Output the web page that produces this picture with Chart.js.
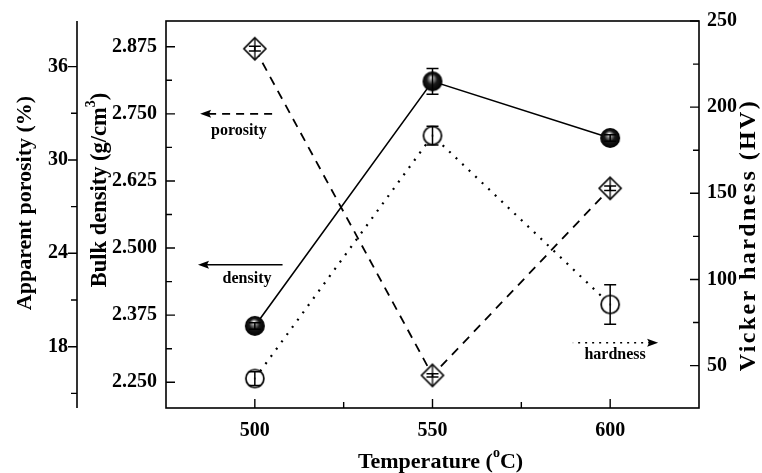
<!DOCTYPE html>
<html>
<head>
<meta charset="utf-8">
<script src="https://cdn.jsdelivr.net/npm/chart.js@4.4.0/dist/chart.umd.min.js"></script>
<style>
  html, body { margin: 0; padding: 0; background: #fff; }
</style>
</head>
<body>
<canvas id="grafico" width="762" height="473"></canvas>
<script>
// values
var temperatures = [500, 550, 600];
var density = [2.355, 2.8105, 2.705];
var densityErr = [0.006, 0.024, 0.006];
var porosity = [37.15, 16.16, 28.18];
var porosityErr = [0.15, 0.1, 0.15];
var hardness = [42.5, 183.5, 85.5];
var hardnessErr = [4, 5.4, 11.5];

var xTicks = [500, 550, 600];
var xMinor = [525, 575];
var densityTicks = [2.25, 2.375, 2.5, 2.625, 2.75, 2.875];
var densityMinor = [2.3125, 2.4375, 2.5625, 2.6875, 2.8125];
var porosityTicks = [18, 24, 30, 36];
var porosityMinor = [15, 21, 27, 33];
var hardnessTicks = [50, 100, 150, 200, 250];
var hardnessMinor = [75, 125, 175, 225];

var SERIF = '"Liberation Serif", "Times New Roman", serif';

function pts(ys) {
  return temperatures.map(function(t, i) { return {x: t, y: ys[i]}; });
}

// marker images
function sphere(r) {
  var c = document.createElement('canvas');
  c.width = c.height = 2 * r + 2;
  var ctx = c.getContext('2d');
  var g = ctx.createRadialGradient(r, r * 0.6 + 1, 0.5, r + 1, r + 1, r);
  g.addColorStop(0, '#f4f4f4');
  g.addColorStop(0.22, '#8a8a8a');
  g.addColorStop(0.5, '#1a1a1a');
  g.addColorStop(1, '#000');
  ctx.fillStyle = g;
  ctx.beginPath();
  ctx.arc(r + 1, r + 1, r, 0, Math.PI * 2);
  ctx.fill();
  return c;
}
function ring(r) {
  var c = document.createElement('canvas');
  c.width = c.height = 2 * r + 4;
  var ctx = c.getContext('2d');
  var m = r + 2;
  ctx.fillStyle = '#fff';
  ctx.strokeStyle = '#000';
  ctx.lineWidth = 1.7;
  ctx.beginPath();
  ctx.arc(m, m, r, 0, Math.PI * 2);
  ctx.fill();
  ctx.stroke();
  ctx.fillStyle = '#000';
  ctx.fillRect(m - 0.7, m - 0.7, 1.4, 1.4);
  return c;
}
function diamond(r) {
  var c = document.createElement('canvas');
  c.width = c.height = 2 * r + 4;
  var ctx = c.getContext('2d');
  var m = r + 2;
  ctx.fillStyle = '#fff';
  ctx.strokeStyle = '#000';
  ctx.lineWidth = 1.6;
  ctx.beginPath();
  ctx.moveTo(m, m - r);
  ctx.lineTo(m + r, m);
  ctx.lineTo(m, m + r);
  ctx.lineTo(m - r, m);
  ctx.closePath();
  ctx.fill();
  ctx.stroke();
  ctx.beginPath();
  ctx.moveTo(m, m - r);
  ctx.lineTo(m, m + r);
  ctx.lineWidth = 1.3;
  ctx.stroke();
  return c;
}

var errors = [densityErr, porosityErr, hardnessErr];

// annotations: [text, x, y, scaleId] and arrows [x1, x2, y, scaleId, dash, tipLeft]
var notes = [
  ['porosity', 495.5, 2.718, 'y'],
  ['density', 497.8, 2.442, 'y'],
  ['hardness', 601.4, 56.4, 'y2']
];
var arrows = [
  [484.6, 506.2, 2.750, 'y', [8, 6], true],
  [484.0, 507.8, 2.469, 'y', [], true],
  [589.5, 613.5, 63.3, 'y2', [2, 5], false]
];

function drawRich(ctx, parts, cx, cy, rot, size, spacing) {
  ctx.save();
  ctx.translate(cx, cy);
  ctx.rotate(rot);
  ctx.letterSpacing = (spacing || 0) + 'px';
  var big = 'bold ' + size + 'px ' + SERIF;
  var small = 'bold ' + Math.round(size * 0.62) + 'px ' + SERIF;
  var w = 0;
  parts.forEach(function(p) {
    ctx.font = p[1] ? small : big;
    w += ctx.measureText(p[0]).width;
  });
  var x = -w / 2;
  ctx.textBaseline = 'middle';
  ctx.textAlign = 'left';
  ctx.fillStyle = '#000';
  parts.forEach(function(p) {
    ctx.font = p[1] ? small : big;
    ctx.fillText(p[0], x, p[1] ? -size * 0.38 : 0);
    x += ctx.measureText(p[0]).width;
  });
  ctx.restore();
}

var frame = {
  id: 'frame',
  afterDatasetsDraw: function(chart) {
    var ctx = chart.ctx;
    ctx.save();
    ctx.strokeStyle = '#000';
    ctx.lineWidth = 1.5;
    var xs = chart.scales.x;
    chart.data.datasets.forEach(function(ds, i) {
      var ys = chart.scales[ds.yAxisID];
      ds.data.forEach(function(p, j) {
        var e = errors[i][j];
        var px = xs.getPixelForValue(p.x);
        var y1 = ys.getPixelForValue(p.y - e);
        var y2 = ys.getPixelForValue(p.y + e);
        ctx.beginPath();
        ctx.moveTo(px, y1); ctx.lineTo(px, y2);
        ctx.moveTo(px - 6, y1); ctx.lineTo(px + 6, y1);
        ctx.moveTo(px - 6, y2); ctx.lineTo(px + 6, y2);
        ctx.stroke();
      });
    });
    ctx.restore();
  },
  afterDraw: function(chart) {
    var ctx = chart.ctx;
    var a = chart.chartArea;
    var s = chart.scales;
    ctx.save();
    ctx.strokeStyle = '#000';
    ctx.lineWidth = 1.6;
    ctx.strokeRect(a.left, a.top, a.right - a.left, a.bottom - a.top);
    var pr = s.yP.right;
    ctx.beginPath();
    ctx.moveTo(pr, a.top); ctx.lineTo(pr, a.bottom);
    ctx.stroke();

    ctx.lineWidth = 1.4;
    ctx.beginPath();
    function tx(vals, len) {
      vals.forEach(function(v) {
        var p = s.x.getPixelForValue(v);
        ctx.moveTo(p, a.bottom); ctx.lineTo(p, a.bottom - len);
      });
    }
    function ty(sc, vals, x0, len) {
      vals.forEach(function(v) {
        var p = sc.getPixelForValue(v);
        ctx.moveTo(x0, p); ctx.lineTo(x0 + len, p);
      });
    }
    tx(xTicks, 9); tx(xMinor, 6);
    ty(s.y, densityTicks, a.left, 9); ty(s.y, densityMinor, a.left, 6);
    ty(s.y2, hardnessTicks, a.right, -9); ty(s.y2, hardnessMinor, a.right, -6);
    ty(s.yP, porosityTicks, pr, -9); ty(s.yP, porosityMinor, pr, -6);
    ctx.stroke();

    // arrows
    arrows.forEach(function(ar) {
      var x1 = s.x.getPixelForValue(ar[0]);
      var x2 = s.x.getPixelForValue(ar[1]);
      var y = s[ar[3]].getPixelForValue(ar[2]);
      var tip = ar[5] ? x1 : x2;
      var dir = ar[5] ? 1 : -1;
      ctx.setLineDash(ar[4]);
      ctx.lineWidth = 1.6;
      ctx.beginPath();
      ctx.moveTo(tip + dir * 8, y);
      ctx.lineTo(ar[5] ? x2 : x1, y);
      ctx.stroke();
      ctx.setLineDash([]);
      ctx.fillStyle = '#000';
      ctx.beginPath();
      ctx.moveTo(tip, y);
      ctx.lineTo(tip + dir * 11, y - 4);
      ctx.lineTo(tip + dir * 9, y);
      ctx.lineTo(tip + dir * 11, y + 4);
      ctx.closePath();
      ctx.fill();
    });

    ctx.fillStyle = '#000';
    ctx.font = 'bold 16px ' + SERIF;
    ctx.textAlign = 'center';
    ctx.textBaseline = 'middle';
    notes.forEach(function(n) {
      ctx.fillText(n[0], s.x.getPixelForValue(n[1]), s[n[3]].getPixelForValue(n[2]));
    });
    ctx.restore();

    // axis titles
    drawRich(ctx, [['Apparent porosity (%)']], 25, 203, -Math.PI / 2, 22);
    drawRich(ctx, [['Bulk density (g/cm'], ['3', true], [')']], 100, 190, -Math.PI / 2, 22.5);
    drawRich(ctx, [['Vicker hardness (HV)']], 749, 235, -Math.PI / 2, 24, 2.4);
    drawRich(ctx, [['Temperature ('], ['o', true], ['C)']], (a.left + a.right) / 2 + 8, 462, 0, 22);
  }
};

function setTicks(list) {
  return function(scale) {
    scale.ticks = list.map(function(v) { return {value: v}; });
  };
}
var tickFont = {family: SERIF, size: 20, weight: 'bold'};
var noGrid = {display: false, drawTicks: false};

var ctx = document.getElementById('grafico').getContext('2d');
var chart = new Chart(ctx, {
  type: 'line',
  data: {
    datasets: [{
      label: 'density',
      data: pts(density),
      yAxisID: 'y',
      borderColor: '#000',
      borderWidth: 1.6,
      pointStyle: sphere(10),
      tension: 0
    }, {
      label: 'porosity',
      data: pts(porosity),
      yAxisID: 'yP',
      borderColor: '#000',
      borderWidth: 1.8,
      borderDash: [9, 7],
      pointStyle: diamond(11),
      tension: 0
    }, {
      label: 'hardness',
      data: pts(hardness),
      yAxisID: 'y2',
      borderColor: '#000',
      borderWidth: 2.2,
      borderDash: [2, 7],
      pointStyle: ring(9),
      tension: 0
    }]
  },
  options: {
    responsive: false,
    animation: false,
    layout: {padding: {top: 17, left: 0, right: 0, bottom: 0}},
    plugins: {legend: {display: false}, tooltip: {enabled: false}},
    scales: {
      x: {
        type: 'linear', position: 'bottom', min: 475, max: 625,
        afterBuildTicks: setTicks(xTicks),
        afterFit: function(s) { s.height = 65; },
        grid: noGrid, border: {display: false},
        ticks: {font: tickFont, color: '#000', padding: 11, callback: function(v) { return v; }}
      },
      y: {
        position: 'left', min: 2.2021, max: 2.9229, weight: 0,
        afterBuildTicks: setTicks(densityTicks),
        afterFit: function(s) { s.width = 89; },
        grid: noGrid, border: {display: false},
        ticks: {font: tickFont, color: '#000', padding: 9, callback: function(v) { return v.toFixed(3); }}
      },
      yP: {
        position: 'left', min: 14.06, max: 38.93, weight: 1,
        afterBuildTicks: setTicks(porosityTicks),
        afterFit: function(s) { s.width = 77; },
        grid: noGrid, border: {display: false},
        ticks: {font: tickFont, color: '#000', padding: 9, callback: function(v) { return v; }}
      },
      y2: {
        position: 'right', min: 25.4, max: 250,
        afterBuildTicks: setTicks(hardnessTicks),
        afterFit: function(s) { s.width = 63; },
        grid: noGrid, border: {display: false},
        ticks: {font: tickFont, color: '#000', padding: 8, callback: function(v) { return v; }}
      }
    }
  },
  plugins: [frame]
});
</script>
</body>
</html>
